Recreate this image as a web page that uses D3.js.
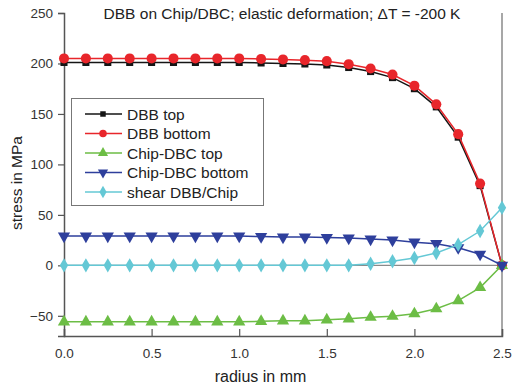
<!DOCTYPE html>
<html>
<head>
<meta charset="utf-8">
<script src="https://cdn.jsdelivr.net/npm/d3@7"></script>
<style>
  body { margin: 0; background: #fff; }
  svg { font-family: "Liberation Sans", Arial, sans-serif; }
</style>
</head>
<body>
<div id="chart"></div>
<script>
// radius positions (mm)
var radius = [0, 0.125, 0.25, 0.375, 0.5, 0.625, 0.75, 0.875, 1.0, 1.125, 1.25,
              1.375, 1.5, 1.625, 1.75, 1.875, 2.0, 2.125, 2.25, 2.375, 2.5];

var dbbTop = [201, 201, 201, 201, 201, 201, 201, 201, 201, 200.5, 200,
              199.5, 198.5, 196, 192, 186, 175, 157, 127, 79, 0];
var dbbBottom = [205, 205, 205, 205, 205, 205, 205, 205, 205, 204.5, 204,
                 203.3, 202.3, 199.3, 195, 189, 178, 159.5, 130, 81, 0];
var chipTop = [-56, -56, -56, -56, -56, -56, -56, -56, -56, -55.5, -55,
               -55, -54, -53, -51.5, -50.5, -48, -43, -35, -22, 0];
var chipBottom = [29, 29, 29, 29, 29, 29, 29, 29, 29, 28.5, 28,
                  28, 27.5, 27, 26, 25, 23, 21.5, 17.5, 11, 0];
var shear = [0, 0, 0, 0, 0, 0, 0, 0, 0, 0, 0,
             0, 0, 0, 1.5, 4, 7.3, 12.3, 20.5, 34, 57];

var seriesNames = ["DBB top", "DBB bottom", "Chip-DBC top", "Chip-DBC bottom", "shear DBB/Chip"];
var seriesColors = ["#151515", "#e8262b", "#6cbd45", "#2e3f9c", "#64c8d5"];
var seriesSymbols = [d3.symbolSquare, d3.symbolCircle, d3.symbolTriangle, d3.symbolTriangle, d3.symbolDiamond];
var seriesValues = [dbbTop, dbbBottom, chipTop, chipBottom, shear];

var xTicks = [0, 0.5, 1.0, 1.5, 2.0, 2.5];
var yTicks = [-50, 0, 50, 100, 150, 200, 250];

var width = 519, height = 388;
var margin = {top: 13, right: 17, bottom: 52, left: 64};

var svg = d3.select("#chart").append("svg")
    .attr("width", width)
    .attr("height", height);

var x = d3.scaleLinear().domain([0, 2.5]).range([margin.left, width - margin.right]);
var y = d3.scaleLinear().domain([-70, 250]).range([height - margin.bottom, margin.top]);

// zero line and right frame
svg.append("line")
    .attr("x1", x(0)).attr("x2", x(2.5))
    .attr("y1", y(0)).attr("y2", y(0))
    .attr("stroke", "#8a8a8a").attr("stroke-width", 1.2);

svg.append("line")
    .attr("x1", x(2.5)).attr("x2", x(2.5))
    .attr("y1", y(250)).attr("y2", y(-70))
    .attr("stroke", "#8a8a8a").attr("stroke-width", 1.5);

// x axis: ticks pointing up
var xAxis = d3.axisBottom(x).tickValues(xTicks).tickFormat(d3.format(".1f")).tickSize(-7).tickPadding(12);
var xMinor = d3.axisBottom(x).tickValues(d3.range(0.25, 2.5, 0.5)).tickFormat("").tickSize(-4);

var gx = svg.append("g").attr("transform", "translate(0," + y(-70) + ")");
gx.call(xMinor);
gx.call(xAxis);

// y axis: ticks pointing out
var yAxis = d3.axisLeft(y).tickValues(yTicks).tickSize(6).tickPadding(5);
var yMinor = d3.axisLeft(y).tickValues(d3.range(-25, 250, 50)).tickFormat("").tickSize(4);

var gy = svg.append("g").attr("transform", "translate(" + x(0) + ",0)");
gy.call(yMinor);
gy.call(yAxis);

svg.selectAll(".domain").attr("stroke", "#555").attr("stroke-width", 1.5);
svg.selectAll(".tick line").attr("stroke", "#555").attr("stroke-width", 1.2);
svg.selectAll(".tick text").attr("font-size", 13.5).attr("fill", "#333")
    .attr("font-family", "'Liberation Sans', Arial, sans-serif");

// series
var line = d3.line()
    .x(function (d, i) { return x(radius[i]); })
    .y(function (d) { return y(d); });

var markerSizes = [50, 80, 65, 65, 60];

seriesValues.forEach(function (vals, k) {
    var g = svg.append("g");
    g.append("path")
        .datum(vals)
        .attr("d", line)
        .attr("fill", "none")
        .attr("stroke", seriesColors[k])
        .attr("stroke-width", 1.5);

    var sym = d3.symbol().type(seriesSymbols[k]).size(markerSizes[k]);
    g.selectAll("path.m")
        .data(vals)
        .enter()
        .append("path")
        .attr("class", "m")
        .attr("d", sym)
        .attr("fill", seriesColors[k])
        .attr("transform", function (d, i) {
            var rot = k == 3 ? " rotate(180)" : "";
            return "translate(" + x(radius[i]) + "," + y(d) + ")" + rot;
        });
});

// legend
var legend = svg.append("g");
legend.append("rect")
    .attr("x", 71.5).attr("y", 98.5)
    .attr("width", 192).attr("height", 107)
    .attr("fill", "#fff")
    .attr("stroke", "#777").attr("stroke-width", 1);

seriesNames.forEach(function (name, k) {
    var ly = 114 + k * 19.5;
    legend.append("line")
        .attr("x1", 85).attr("x2", 122)
        .attr("y1", ly).attr("y2", ly)
        .attr("stroke", seriesColors[k]).attr("stroke-width", 1.5);
    legend.append("path")
        .attr("d", d3.symbol().type(seriesSymbols[k]).size(k == 0 ? 30 : 45))
        .attr("fill", seriesColors[k])
        .attr("transform", "translate(103," + ly + ")" + (k == 3 ? " rotate(180)" : ""));
    legend.append("text")
        .attr("x", 127).attr("y", ly + 5.5)
        .attr("font-size", 15.5)
        .attr("fill", "#222")
        .text(name);
});

// title and axis labels
svg.append("text")
    .attr("x", 282).attr("y", 19)
    .attr("text-anchor", "middle")
    .attr("font-size", 15.5)
    .attr("fill", "#222")
    .text("DBB on Chip/DBC; elastic deformation; \u0394T = -200 K");

svg.append("text")
    .attr("x", 260.5).attr("y", 382)
    .attr("text-anchor", "middle")
    .attr("font-size", 16)
    .attr("fill", "#222")
    .text("radius in mm");

svg.append("text")
    .attr("transform", "translate(22,183) rotate(-90)")
    .attr("text-anchor", "middle")
    .attr("font-size", 15.5)
    .attr("fill", "#222")
    .text("stress in MPa");
</script>
</body>
</html>
